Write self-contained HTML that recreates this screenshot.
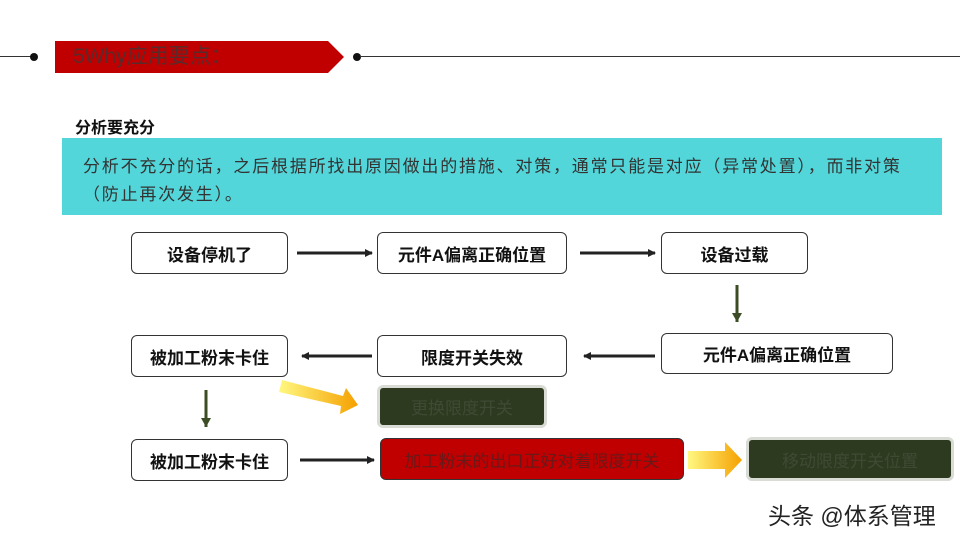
<!DOCTYPE html>
<html><head><meta charset="utf-8"><style>
body{margin:0;width:960px;height:540px;background:#fff;position:relative;overflow:hidden;font-family:"Liberation Sans","Noto Sans CJK SC",sans-serif}
.a{position:absolute}
.box{position:absolute;box-sizing:border-box;border:1px solid #333;border-radius:6px;background:#fff;display:flex;align-items:center;justify-content:center;font-size:17px;font-weight:bold;color:#111}
.dk{position:absolute;box-sizing:border-box;border:3px solid #d9dcd4;border-radius:6px;background:#2e3a20;display:flex;align-items:center;justify-content:center;font-size:17px;color:#3f4a34}
</style></head><body>
<div class="a" style="left:0;top:56px;width:35px;height:1px;background:#333"></div>
<div class="a" style="left:30px;top:53px;width:8px;height:8px;border-radius:50%;background:#111"></div>
<svg class="a" style="left:55px;top:41px" width="290" height="33"><polygon points="0,0 273,0 289,16 273,32 0,32" fill="#c00000"/></svg>
<div class="a" style="left:73px;top:42px;font-size:21px;color:#5a2a2a;line-height:30px">5Why应用要点：</div>
<div class="a" style="left:353px;top:53px;width:8px;height:8px;border-radius:50%;background:#111"></div>
<div class="a" style="left:360px;top:56px;width:600px;height:1px;background:#333"></div>
<div class="a" style="left:75px;top:114px;font-size:16px;font-weight:bold;color:#111">分析要充分</div>
<div class="a" style="left:62px;top:138px;width:880px;height:77px;background:#52d6da"></div>
<div class="a" style="left:83px;top:153px;width:860px;font-size:17px;line-height:28px;color:#333;white-space:nowrap;letter-spacing:1.8px">分析不充分的话，之后根据所找出原因做出的措施、对策，通常只能是对应（异常处置），而非对策<br>（防止再次发生）。</div>

<div class="box" style="left:131px;top:232px;width:157px;height:42px">设备停机了</div>
<div class="box" style="left:377px;top:232px;width:190px;height:42px">元件A偏离正确位置</div>
<div class="box" style="left:661px;top:232px;width:147px;height:42px">设备过载</div>
<div class="box" style="left:131px;top:335px;width:157px;height:42px">被加工粉末卡住</div>
<div class="box" style="left:377px;top:335px;width:190px;height:42px">限度开关失效</div>
<div class="box" style="left:661px;top:333px;width:232px;height:41px">元件A偏离正确位置</div>
<div class="box" style="left:131px;top:439px;width:157px;height:42px">被加工粉末卡住</div>
<div class="dk" style="left:377px;top:385px;width:170px;height:43px">更换限度开关</div>
<div class="a" style="left:380px;top:438px;width:304px;height:42px;box-sizing:border-box;border:1px solid #333;border-radius:6px;background:#c00000;display:flex;align-items:center;justify-content:center;font-size:17px;color:#6a1818">加工粉末的出口正好对着限度开关</div>
<div class="dk" style="left:746px;top:437px;width:208px;height:44px">移动限度开关位置</div>

<svg class="a" style="left:0;top:0" width="960" height="540">
<defs>
<marker id="m" markerWidth="8" markerHeight="8" refX="7" refY="4" orient="auto" markerUnits="userSpaceOnUse"><path d="M0,0 L8,4 L0,8z" fill="#222"/></marker>
<marker id="g" markerWidth="10" markerHeight="10" refX="9" refY="5" orient="auto" markerUnits="userSpaceOnUse"><path d="M0,0 L9,5 L0,10z" fill="#3c4d26"/></marker>
<linearGradient id="y" x1="0" x2="1"><stop offset="0" stop-color="#fff880"/><stop offset="1" stop-color="#f5a000"/></linearGradient>
</defs>
<g stroke="#222" stroke-width="3">
<line x1="297" y1="253" x2="372" y2="253" marker-end="url(#m)"/>
<line x1="580" y1="253" x2="655" y2="253" marker-end="url(#m)"/>
<line x1="372" y1="356" x2="302" y2="356" marker-end="url(#m)"/>
<line x1="655" y1="356" x2="584" y2="356" marker-end="url(#m)"/>
<line x1="300" y1="460" x2="374" y2="460" marker-end="url(#m)"/>
</g>
<g stroke="#3c4d26" stroke-width="3">
<line x1="737" y1="285" x2="737" y2="322" marker-end="url(#g)"/>
<line x1="206" y1="390" x2="206" y2="427" marker-end="url(#g)"/>
</g>
<polygon points="282,380 343,396 346,388 358,405 340,414 341,406 279,392" fill="url(#y)"/>
<polygon points="688,451 725,451 725,442 742,460 725,478 725,469 688,469" fill="url(#y)"/>
</svg>
<div class="a" style="left:768px;top:497px;font-size:23px;color:#222">头条 @体系管理</div>
</body></html>
